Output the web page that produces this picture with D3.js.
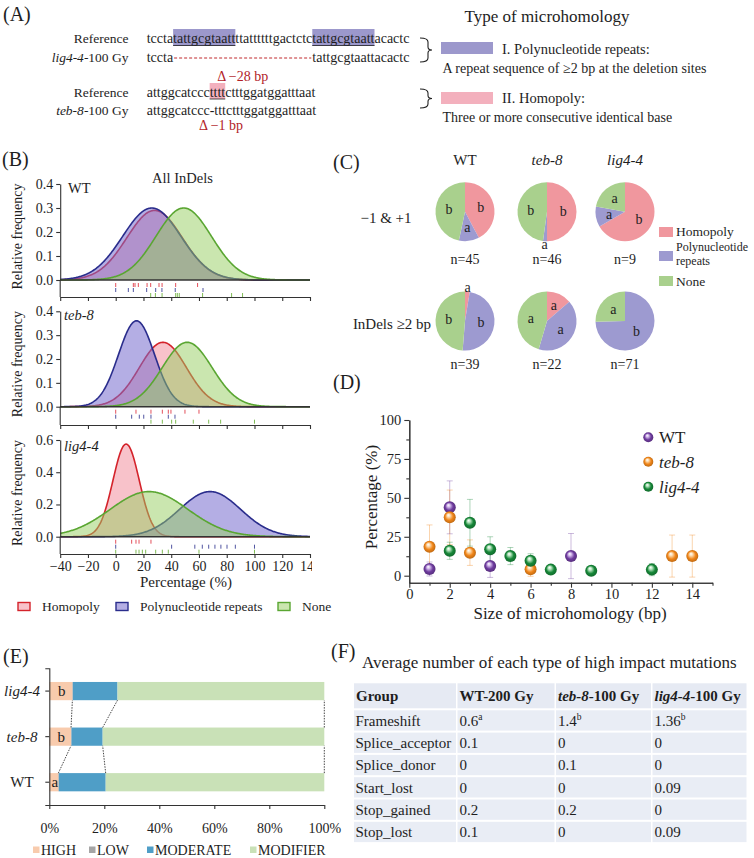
<!DOCTYPE html>
<html><head><meta charset="utf-8">
<style>
body{margin:0;background:#fff}
#fig{font-family:"Liberation Serif","Times New Roman",serif}
#fig text{fill:#1e1e1e}
.ax path,.ax line{stroke:#333;stroke-width:1.1}
</style>
<script src="https://d3js.org/d3.v7.min.js"></script>
</head><body>
<svg id="fig" width="754" height="858"></svg>
<script>
// ---- (B) normal fits per group: [peak, mean, sd]
var fitGroups=['WT','teb-8','lig4-4'];
var fitHomopoly=[[0.29,28,20],[0.27,34,17],[0.575,7.5,9.5]];
var fitRepeats=[[0.30,26,21],[0.36,15,13],[0.28,68,22]];
var fitNone=[[0.30,49,20],[0.27,51.5,18],[0.28,24,28]];
// rug values (%)
var rugHomopoly=[[0,12.7,13.9,16.3,22.6,25.2,31.2,33.4,43.2,59],[0,14.6,25.4,33.6,37.9,39.8,49.9,60],[0,11.5,14.6,16.8,25.4]];
var rugRepeats=[[0,9.1,12.7,22.3,28.8,33.3,42.9,62.9],[0,11.5,17,20.2,25.4,37.9,42.7],[0,40.3,57,62.4,67,71.5,75.8,80.2,86.2,100]];
var rugNone=[[25.2,28.6,33.4,43.2,44.4,45.8,62.6,83.5,91.4],[25.4,33.6,40.3,43.2,55.9,67,75.6,100],[0,14.6,16.8,19.2,21.6,28.8,33.6,37.9,60,100]];
var bTicksX=[-40,-20,0,20,40,60,80,100,120,140];

// ---- (C) pie counts [Homopoly, Polynucleotide repeats, None]
var pieCols=['WT','teb-8','lig4-4'];
var pieRows=['\u22121 & +1','InDels \u22652 bp'];
var pieCounts=[[[19,5,21],[23,1,22],[6,1,2]],[[1,19,19],[3,9,10],[0,53,18]]];
var pieN=[[45,46,9],[39,22,71]];
var pieLetters=[[['b','a','b'],['b','a','b'],['b','a','a']],[['a','b','b'],['a','a','a'],['','b','a']]];
var mhTypes=['Homopoly','Polynucleotide repeats','None'];

// ---- (D) microhomology size
var wtSize=[1,2,4,8], wtPct=[4.3,43.9,6.2,12.6], wtErr=[4.5,17,7.3,14.5];
var tebSize=[1,2,3,6,13,14], tebPct=[18.6,37.5,14.8,4.1,12.6,12.6], tebErr=[14,17.5,8.2,4.5,13.5,13.5];
var ligSize=[2,3,4,5,6,7,9,12], ligPct=[16,34,17,12.6,9.6,3.9,3.2,3.9], ligErr=[5.5,15,8,5.5,4.5,2,2,3.9];

// ---- (E) impact share (%)
var impactGroups=['WT','teb-8','lig4-4'];
var impactKeys=['HIGH','LOW','MODERATE','MODIFIER'];
var impactHigh=[3.3,7.9,8.4], impactLow=[0.2,0.2,0.2], impactModerate=[17.0,11.3,16.2], impactModifier=[79.5,80.6,75.2];
var impactLetters=['a','b','b'];
var impactTicks=[0,20,40,60,80,100];

// ---- (F) table
var tableRows=['Frameshift','Splice_acceptor','Splice_donor','Start_lost','Stop_gained','Stop_lost'];
var tableWT=['0.6','0.1','0','0','0.2','0.1'];
var tableTeb=['1.4','0','0.1','0','0.2','0'];
var tableLig=['1.36','0','0','0.09','0','0.09'];
var tableSup=[['a','b','b'],['','',''],['','',''],['','',''],['','',''],['','','']];

var svg=d3.select('#fig');
svg.append('rect').attr('width',754).attr('height',858).attr('fill','#fff');
var SERIF='"Liberation Serif","Times New Roman",serif';

function rich(x,y,parts,size,anchor,g){
  var t=(g||svg).append('text').attr('x',x).attr('y',y).attr('font-size',size).attr('text-anchor',anchor||'start');
  parts.forEach(function(p){
    if(typeof p==='string')p=[p];
    var s=t.append('tspan').text(p[0]);
    if(p[1])s.attr('font-style','italic');
    if(p[2])s.attr('font-weight','bold');
    if(p[3])s.attr('fill',p[3]);
  });
  return t;
}
function styleAxis(g,size){
  g.attr('class','ax').attr('font-family',SERIF).attr('font-size',size);
  g.selectAll('text').attr('fill','#1e1e1e');
}

// ================= (A)
rich(3,21,['(A)'],20);
var seqX=146.7, SF=14;
var ref1='tccta'+'tattgcgtaatt'+'ttattttttgactctc'+'tattgcgtaatt'+'acactc';
rich(128.5,43,['Reference'],13.5,'end');
var gA=svg.append('g');
var t1=rich(seqX,43,[ref1],SF,'start',gA);
var n1=t1.node();
[[5,12],[33,12]].forEach(function(h){
  var x0=seqX+n1.getSubStringLength(0,h[0]), w=n1.getSubStringLength(h[0],h[1]);
  gA.insert('rect','text').attr('x',x0).attr('y',29).attr('width',w).attr('height',17).attr('fill','#9c98cc');
  gA.append('line').attr('x1',x0).attr('x2',x0+w).attr('y1',45.5).attr('y2',45.5).attr('stroke','#222').attr('stroke-width',0.8);
});
rich(128.5,62,[['lig4-4',1],'-100 Gy'],13.5,'end');
var t2=rich(seqX,62,['tccta'],SF);
var w2=t2.node().getComputedTextLength();
var tailX=seqX+n1.getSubStringLength(0,33);
rich(tailX,62,['tattgcgtaattacactc'],SF);
svg.append('line').attr('x1',seqX+w2+1).attr('x2',tailX-1).attr('y1',58).attr('y2',58)
  .attr('stroke','#c0282d').attr('stroke-width',1).attr('stroke-dasharray','3,2');
rich((seqX+w2+tailX)/2,81,[['\u0394 \u221228 bp',0,0,'#b22228']],14,'middle');

rich(128.5,96.5,['Reference'],13.5,'end');
var ref2='attggcatccc'+'tttt'+'ctttggatggatttaat';
var t3=rich(seqX,96.5,[ref2],SF,'start',gA);
var n3=t3.node();
var px0=seqX+n3.getSubStringLength(0,11), pw=n3.getSubStringLength(11,4);
gA.insert('rect','text').attr('x',px0).attr('y',83).attr('width',pw).attr('height',16).attr('fill','#f3b0bd');
gA.append('line').attr('x1',px0).attr('x2',px0+pw).attr('y1',99).attr('y2',99).attr('stroke','#222').attr('stroke-width',0.8);
rich(128.5,114.5,[['teb-8',1],'-100 Gy'],13.5,'end');
rich(seqX,114.5,['attggcatccc-tttctttggatggatttaat'],SF);
rich(221,130,[['\u0394 \u22121 bp',0,0,'#b22228']],14,'middle');

rich(547,22,['Type of microhomology'],17,'middle');
function brace(y1,y2){
  var ym=(y1+y2)/2;
  svg.append('path').attr('d','M420,'+y1+' Q428,'+y1+' 428,'+(y1+4)+' L428,'+(ym-3)+' Q428,'+ym+' 432,'+ym+
    ' Q428,'+ym+' 428,'+(ym+3)+' L428,'+(y2-4)+' Q428,'+y2+' 420,'+y2).attr('fill','none').attr('stroke','#222').attr('stroke-width',1.1);
}
brace(38,62); brace(89,108);
svg.append('rect').attr('x',441).attr('y',42).attr('width',52).attr('height',12).attr('fill','#9c98cc');
rich(502,53.5,['I. Polynucleotide repeats:'],14.5);
rich(442.5,73,['A repeat sequence of \u22652 bp at the deletion sites'],14);
svg.append('rect').attr('x',441).attr('y',92).attr('width',52).attr('height',12).attr('fill','#f3b0bd');
rich(502,103,['II. Homopoly:'],14.5);
rich(442.5,122,['Three or more consecutive identical base'],14);

// ================= (B)
rich(2,166,['(B)'],20);
var gB=svg.append('g').attr('clip-path','url(#clipB)');
svg.append('clipPath').attr('id','clipB').append('rect').attr('x',0).attr('y',130).attr('width',312).attr('height',500);
var bx=d3.scaleLinear().domain([-40,140]).range([60.2,310]);
var bPanels=[{zero:280,top:184,bottom:297,max:0.4,ticks:[0,.1,.2,.3,.4],fmt:'.1f'},
             {zero:406.7,top:311.3,bottom:425,max:0.4,ticks:[0,.1,.2,.3,.4],fmt:'.1f'},
             {zero:536.7,top:440,bottom:554,max:0.6,ticks:[0,.2,.4,.6],fmt:'.1f'}];
var bSeries=[{fit:fitHomopoly,rug:rugHomopoly,line:'#d4232b',fill:'rgba(238,110,128,0.42)',rc:'#e03c48'},
             {fit:fitRepeats,rug:rugRepeats,line:'#2a2d8c',fill:'rgba(118,108,205,0.55)',rc:'#3d4296'},
             {fit:fitNone,rug:rugNone,line:'#5aa632',fill:'rgba(150,205,95,0.5)',rc:'#72b443'}];
var xs=d3.range(-40,140.5,0.5);
function gauss(p,x){return p[0]*Math.exp(-0.5*Math.pow((x-p[1])/p[2],2));}
bPanels.forEach(function(P,i){
  var y=d3.scaleLinear().domain([0,P.max]).range([P.zero,P.top]);
  bSeries.forEach(function(s){
    var p=s.fit[i];
    gB.append('path').datum(xs).attr('d',d3.area().x(function(d){return bx(d);}).y0(P.zero).y1(function(d){return y(gauss(p,d));}))
      .attr('fill',s.fill);
    gB.append('path').datum(xs).attr('d',d3.line().x(function(d){return bx(d);}).y(function(d){return y(gauss(p,d));}))
      .attr('fill','none').attr('stroke',s.line).attr('stroke-width',1.6);
  });
  bSeries.forEach(function(s,k){
    var r0=P.zero+3+k*5;
    gB.selectAll(null).data(s.rug[i]).enter().append('line')
      .attr('x1',function(d){return bx(d);}).attr('x2',function(d){return bx(d);})
      .attr('y1',r0).attr('y2',r0+4).attr('stroke',s.rc).attr('stroke-width',0.9);
  });
  gB.append('line').attr('x1',bx(-40)).attr('x2',bx(140)).attr('y1',P.zero).attr('y2',P.zero).attr('stroke','#333').attr('stroke-width',1.6);
  var ya=gB.append('g').attr('transform','translate('+bx(-40)+',0)')
    .call(d3.axisLeft(y).tickValues(P.ticks).tickFormat(d3.format(P.fmt)).tickSize(4).tickSizeOuter(0));
  styleAxis(ya,14);
  gB.append('line').attr('x1',bx(-40)).attr('x2',bx(-40)).attr('y1',P.zero).attr('y2',P.bottom).attr('stroke','#333').attr('stroke-width',1.1);
  var xa=gB.append('g').attr('transform','translate(0,'+P.bottom+')')
    .call(d3.axisBottom(bx).tickValues(bTicksX).tickSize(4).tickSizeOuter(0).tickFormat(i===2?d3.format('d'):''));
  styleAxis(xa,14);
  xa.select('.domain').attr('stroke-width',1.6);
  svg.append('text').attr('transform','translate(22,'+((P.top+P.bottom)/2-4)+') rotate(-90)')
    .attr('text-anchor','middle').attr('font-size',14).text('Relative frequency');
  rich(i===0?68:64,[193,320,451][i],[[fitGroups[i],i>0]],14.5);
});
rich(182.5,183,['All InDels'],14.5,'middle');
rich(186,587,['Percentage (%)'],15,'middle');
var bLegX=[18,116,278];
mhTypes.forEach(function(m,k){
  svg.append('rect').attr('x',bLegX[k]).attr('y',602.5).attr('width',12).attr('height',8)
    .attr('fill',bSeries[k].fill).attr('stroke',bSeries[k].line).attr('stroke-width',1.4);
  rich(bLegX[k]+24,611,[m],13.5);
});

// ================= (C)
rich(333,169,['(C)'],20);
var pieColors=['#f0979e','#9d9ad0','#a9d08d'];
var R=29.5;
var arc=d3.arc().innerRadius(0).outerRadius(R);
var pie=d3.pie().sort(null);
var pieX=[465,547,625], pieY=[211.7,321];
pieCols.forEach(function(c,j){ rich(pieX[j],165,[[c,j>0]],15,'middle'); });
pieRows.forEach(function(r,i){
  rich(i===0?386:392,[223,329][i],[r],15,'middle');
  pieCols.forEach(function(c,j){
    var g=svg.append('g').attr('transform','translate('+pieX[j]+','+pieY[i]+')');
    var arcs=pie(pieCounts[i][j]);
    g.selectAll('path').data(arcs).enter().append('path').attr('d',arc).attr('fill',function(d,k){return pieColors[k];});
    arcs.forEach(function(a,k){
      var L=pieLetters[i][j][k]; if(!L)return;
      var span=a.endAngle-a.startAngle, mid=(a.startAngle+a.endAngle)/2;
      var rr=span<0.25?R+4:R*0.55;
      g.append('text').attr('x',rr*Math.sin(mid)).attr('y',-rr*Math.cos(mid)+4).attr('text-anchor','middle')
        .attr('font-size',14).text(L);
    });
    rich(pieX[j],[264,369][i],['n='+pieN[i][j]],14,'middle');
  });
});
var cLegY=[232,256,281];
mhTypes.forEach(function(m,k){
  svg.append('rect').attr('x',659).attr('y',cLegY[k]-5).attr('width',14).attr('height',10).attr('fill',pieColors[k]);
});
rich(676,236,['Homopoly'],13.5);
rich(676,250.5,['Polynucleotide'],12);
rich(676,264.5,['repeats'],12);
rich(676,286,['None'],13.5);

// ================= (D)
rich(333,389,['(D)'],20);
var dx=d3.scaleLinear().domain([0,15]).range([409.3,712.5]);
var dy=d3.scaleLinear().domain([-4.5,100]).range([582.7,420]);
var dSeries=[{name:'WT',it:false,size:wtSize,pct:wtPct,err:wtErr,c:'#6e3b9e',hi:'#d9c2ef'},
             {name:'teb-8',it:true,size:tebSize,pct:tebPct,err:tebErr,c:'#f08518',hi:'#fde0b8'},
             {name:'lig4-4',it:true,size:ligSize,pct:ligPct,err:ligErr,c:'#168738',hi:'#bfe8c6'}];
var defs=svg.append('defs');
dSeries.forEach(function(s,k){
  var gr=defs.append('radialGradient').attr('id','sph'+k).attr('cx','50%').attr('cy','50%').attr('r','55%').attr('fx','38%').attr('fy','30%');
  gr.append('stop').attr('offset','0%').attr('stop-color','#fff');
  gr.append('stop').attr('offset','22%').attr('stop-color',s.hi);
  gr.append('stop').attr('offset','60%').attr('stop-color',s.c);
  gr.append('stop').attr('offset','100%').attr('stop-color',d3.color(s.c).darker(0.8));
});
var xMaj=d3.range(0,15,2), xMin=d3.range(1,16,2);
var xa=svg.append('g').attr('transform','translate(0,582.7)').call(d3.axisBottom(dx).tickValues(xMaj).tickSize(5).tickPadding(1).tickSizeOuter(0));
styleAxis(xa,14.5);
var xm=svg.append('g').attr('transform','translate(0,582.7)').call(d3.axisBottom(dx).tickValues(xMin).tickSize(3).tickFormat('').tickSizeOuter(0));
styleAxis(xm,14);
var ya=svg.append('g').attr('transform','translate(409.3,0)').call(d3.axisLeft(dy).tickValues([0,25,50,75,100]).tickSize(5).tickSizeOuter(0));
styleAxis(ya,14.5);
var ym=svg.append('g').attr('transform','translate(409.3,0)').call(d3.axisLeft(dy).tickValues([12.5,37.5,62.5,87.5]).tickSize(3).tickFormat('').tickSizeOuter(0));
styleAxis(ym,14);
dSeries.forEach(function(s){
  s.size.forEach(function(v,i){
    var x=dx(v), yt=dy(s.pct[i]+s.err[i]), yb=dy(s.pct[i]-s.err[i]);
    var g=svg.append('g').attr('stroke',s.c).attr('stroke-opacity',0.35).attr('stroke-width',1);
    g.append('line').attr('x1',x).attr('x2',x).attr('y1',yt).attr('y2',yb);
    g.append('line').attr('x1',x-3).attr('x2',x+3).attr('y1',yt).attr('y2',yt);
    g.append('line').attr('x1',x-3).attr('x2',x+3).attr('y1',yb).attr('y2',yb);
  });
});
dSeries.forEach(function(s,k){
  svg.selectAll(null).data(s.size).enter().append('circle')
    .attr('cx',function(d){return dx(d);}).attr('cy',function(d,i){return dy(s.pct[i]);})
    .attr('r',6).attr('fill','url(#sph'+k+')');
  var ly=[437.3,461.7,486.7][k];
  svg.append('circle').attr('cx',648.3).attr('cy',ly).attr('r',5).attr('fill','url(#sph'+k+')');
  rich(659,ly+6,[[s.name,s.it]],17);
});
rich(570,619,['Size of microhomology (bp)'],17,'middle');
svg.append('text').attr('transform','translate(377,497) rotate(-90)').attr('text-anchor','middle').attr('font-size',17).text('Percentage (%)');

// ================= (E)
rich(3,663,['(E)'],20);
var impactColors=['#f8cbad','#a5a5a5','#4f9ec7','#c9e1b7'];
var eRows=impactGroups.map(function(g,i){return {group:g,HIGH:impactHigh[i],LOW:impactLow[i],MODERATE:impactModerate[i],MODIFIER:impactModifier[i]};});
var eStack=d3.stack().keys(impactKeys)(eRows);
var ex=d3.scaleLinear().domain([0,100]).range([49.3,324.3]);
var ey=d3.scaleBand().domain(['lig4-4','teb-8','WT']).range([668.3,805]).paddingInner(0.6).paddingOuter(0.3);
eStack.forEach(function(layer,k){
  svg.selectAll(null).data(layer).enter().append('rect')
    .attr('x',function(d){return ex(d[0]);}).attr('width',function(d){return ex(d[1])-ex(d[0]);})
    .attr('y',function(d){return ey(d.data.group);}).attr('height',ey.bandwidth()).attr('fill',impactColors[k]);
});
// series lines between bars
[0,2,3].forEach(function(k){
  for(var i=0;i<2;i++){
    var lo=eStack[k][i], up=eStack[k][i+1];
    svg.append('line').attr('x1',ex(lo[1])).attr('y1',ey(lo.data.group)).attr('x2',ex(up[1])).attr('y2',ey(up.data.group)+ey.bandwidth())
      .attr('stroke','#333').attr('stroke-width',0.9).attr('stroke-dasharray','1.5,1.2');
  }
});
impactGroups.forEach(function(g,i){
  var c=eStack[0][i];
  rich(ex((c[0]+c[1])/2)+1,ey(g)+ey.bandwidth()/2+5,[impactLetters[i]],15,'middle');
  rich(22,ey(g)+ey.bandwidth()/2+5,[[g,g!=='WT']],15,'middle');
});
var eya=svg.append('g').attr('transform','translate(49.3,0)').call(d3.axisLeft(ey).tickSize(4).tickFormat('').tickSizeOuter(4));
styleAxis(eya,14);
var exa=svg.append('g').attr('transform','translate(0,805)').call(d3.axisBottom(ex).tickValues(impactTicks).tickSize(4).tickSizeOuter(0)
  .tickFormat(function(d){return d+'%';}).tickPadding(14));
styleAxis(exa,14);
var eLegX=[33,89,147,250];
impactKeys.forEach(function(k,i){
  svg.append('rect').attr('x',eLegX[i]).attr('y',846.5).attr('width',6.5).attr('height',6.5).attr('fill',impactColors[i]);
  rich(eLegX[i]+8,855,[k],14);
});

// ================= (F)
rich(331,658,['(F)'],20);
rich(362,668,['Average number of each type of high impact mutations'],17);
var colX=[354,457.5,556,652.5,748];
var headY=683.3, headH=25, rowH=22.3;
var tg=svg.append('g');
function cellRow(y,h,fill){
  for(var c=0;c<4;c++) tg.append('rect').attr('x',colX[c]).attr('y',y).attr('width',colX[c+1]-colX[c]-1.5).attr('height',h).attr('fill',fill);
}
cellRow(headY,headH,'#e6eaf3');
var head=[[['Group',0,1]],[['WT-200 Gy',0,1]],[['teb-8',1,1],['-100 Gy',0,1]],[['lig4-4',1,1],['-100 Gy',0,1]]];
head.forEach(function(h,c){ rich(colX[c]+2,headY+18,h,15); });
tableRows.forEach(function(r,i){
  var y=headY+headH+2+i*rowH;
  cellRow(y,rowH-2,'#e9edf5');
  var vals=[tableWT[i],tableTeb[i],tableLig[i]];
  rich(colX[0]+1.5,y+15.5,[r],15);
  vals.forEach(function(v,c){
    var t=rich(colX[c+1]+2,y+15.5,[v],15);
    if(tableSup[i][c]) t.append('tspan').attr('dy',-6).attr('font-size',9.5).text(tableSup[i][c]);
  });
});
</script>
</body></html>
